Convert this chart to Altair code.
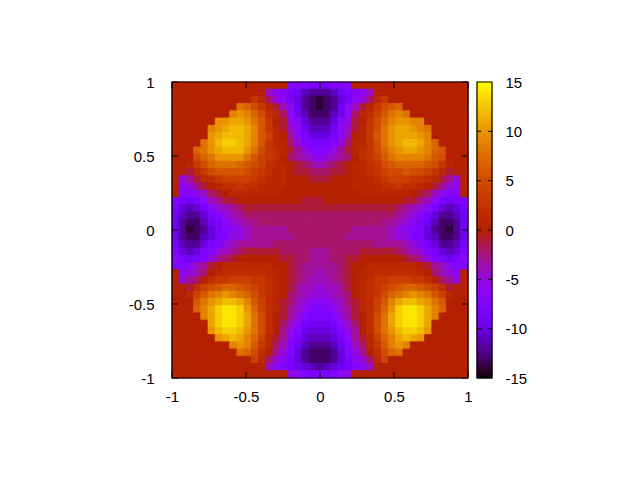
import math
import altair as alt
import pandas as pd

# Hand-read field values, top row first; each row lists only the cells inside the disk.
row_00 = [-6,-7,-7,-8,-8,-8,-7,-7,-6]
row_01 = [-4,-6,-7,-8,-9,-11,-12,-12,-12,-11,-9,-8,-7,-6,-4]
row_02 = [3,1,-2,-5,-6,-8,-10,-12,-13,-14,-13,-12,-10,-8,-6,-5,-2,1,3]
row_03 = [8,7,5,3,1,-1,-4,-6,-9,-12,-13,-14,-13,-12,-9,-6,-4,-1,1,3,5,6,7]
row_04 = [9,10,9,7,5,2,1,-2,-6,-9,-11,-13,-13,-13,-11,-9,-6,-2,1,2,4,6,8,9,8]
row_05 = [10,10,11,11,10,8,6,3,0,-1,-5,-7,-10,-12,-12,-12,-10,-7,-5,-1,0,3,5,7,9,10,10,9,9]
row_06 = [9,10,11,12,12,11,9,6,3,1,-1,-4,-6,-9,-11,-11,-11,-9,-6,-4,-1,1,3,5,8,10,11,11,10,9,8]
row_07 = [10,11,12,12,12,11,9,6,4,1,0,-3,-6,-8,-10,-10,-10,-8,-6,-3,0,1,3,6,8,10,11,11,11,10,9]
row_08 = [8,10,12,13,13,12,11,9,6,3,1,1,-2,-5,-7,-8,-8,-8,-7,-5,-2,1,1,3,5,8,10,11,12,12,11,9,7]
row_09 = [7,8,10,11,12,12,12,10,8,5,3,2,1,-1,-3,-5,-7,-7,-7,-5,-3,-1,1,2,3,5,7,9,10,11,11,10,9,7,6]
row_10 = [5,7,8,10,10,10,10,8,6,4,3,2,0,-2,-3,-4,-5,-6,-5,-4,-3,-2,0,2,3,4,6,8,9,9,9,9,8,6,5]
row_11 = [1,3,5,7,8,8,8,7,6,5,4,2,1,1,0,-1,-2,-3,-4,-3,-2,-1,0,1,1,2,3,5,6,7,7,7,7,6,5,3,1]
row_12 = [-1,1,3,5,6,6,6,6,5,4,3,2,1,1,0,-1,-1,-2,-2,-2,-1,-1,0,1,1,2,3,4,5,5,6,5,5,4,3,1,-1]
row_13 = [-5,-3,-1,1,2,3,4,4,4,4,3,2,1,1,1,0,0,0,-1,-1,-1,0,0,0,1,1,1,2,3,4,4,4,3,3,2,1,-1,-3,-5]
row_14 = [-6,-5,-3,-1,0,1,2,2,3,2,2,1,1,1,1,0,0,0,0,0,0,0,0,0,1,1,1,1,2,2,3,2,2,1,0,-1,-3,-5,-6]
row_15 = [-7,-7,-6,-4,-2,-1,0,1,1,1,1,1,1,1,0,0,0,0,0,0,0,0,0,0,0,1,1,1,1,1,1,1,0,-1,-2,-4,-6,-7,-7]
row_16 = [-7,-8,-9,-8,-6,-4,-3,-1,-1,0,0,0,0,0,0,0,0,0,-1,-1,-1,0,0,0,0,0,0,0,0,0,0,0,-1,-1,-3,-4,-6,-8,-9,-8,-7]
row_17 = [-8,-10,-11,-10,-8,-6,-5,-4,-3,-2,-1,-1,-1,-1,-1,-1,-1,-1,-1,-1,-1,-1,-1,-1,-1,-1,-1,-1,-1,-1,-1,-2,-3,-4,-5,-6,-8,-10,-11,-10,-8]
row_18 = [-9,-11,-12,-12,-10,-8,-7,-5,-4,-3,-2,-2,-2,-2,-2,-2,-2,-2,-2,-2,-2,-2,-2,-2,-2,-2,-2,-2,-2,-2,-2,-3,-4,-5,-7,-8,-10,-12,-12,-11,-9]
row_19 = [-9,-12,-13,-13,-11,-9,-8,-6,-5,-4,-3,-3,-2,-2,-2,-2,-2,-2,-2,-2,-2,-2,-2,-2,-2,-2,-2,-2,-2,-3,-3,-4,-5,-6,-8,-9,-11,-13,-13,-12,-9]
row_20 = [-9,-12,-14,-13,-12,-10,-8,-7,-6,-5,-4,-3,-3,-3,-3,-3,-2,-2,-2,-2,-2,-2,-2,-2,-2,-3,-3,-3,-3,-3,-4,-5,-6,-7,-8,-10,-12,-13,-14,-12,-9]
row_21 = [-9,-12,-13,-13,-11,-10,-8,-7,-5,-5,-4,-3,-3,-3,-3,-3,-3,-2,-2,-2,-2,-2,-2,-2,-3,-3,-3,-3,-3,-3,-4,-5,-5,-7,-8,-10,-11,-13,-13,-12,-9]
row_22 = [-8,-11,-12,-12,-10,-8,-7,-5,-4,-3,-3,-3,-3,-3,-2,-2,-2,-2,-2,-2,-2,-2,-2,-2,-2,-2,-2,-2,-3,-3,-3,-3,-4,-5,-7,-8,-10,-12,-12,-11,-8]
row_23 = [-7,-10,-11,-10,-8,-7,-5,-4,-3,-2,-1,-1,-1,-1,-1,-2,-2,-2,-2,-3,-3,-3,-2,-2,-2,-2,-1,-1,-1,-1,-1,-2,-3,-4,-5,-7,-8,-10,-11,-10,-7]
row_24 = [-6,-8,-9,-8,-7,-5,-3,-2,-1,0,0,0,0,0,0,-1,-1,-2,-2,-3,-3,-3,-2,-2,-1,-1,0,0,0,0,0,0,-1,-2,-3,-5,-7,-8,-9,-8,-6]
row_25 = [-7,-7,-6,-4,-3,-1,0,1,1,1,1,1,1,1,0,0,-1,-2,-3,-3,-3,-3,-3,-2,-1,0,0,1,1,1,1,1,1,1,0,-1,-3,-4,-6,-7,-7]
row_26 = [-6,-5,-4,-2,0,1,2,2,2,2,2,2,1,1,0,-1,-2,-3,-3,-4,-3,-3,-2,-1,0,1,1,2,2,2,2,2,2,1,0,-2,-4,-5,-6]
row_27 = [-5,-3,-2,0,2,3,3,4,4,4,3,3,2,1,0,-1,-2,-3,-4,-4,-4,-3,-2,-1,0,1,2,3,3,4,4,4,3,3,2,0,-2,-3,-5]
row_28 = [-1,2,4,5,6,7,7,6,5,4,3,2,1,0,-1,-3,-4,-4,-5,-4,-4,-3,-1,0,1,2,3,4,5,6,7,7,6,5,4,2,-1]
row_29 = [1,4,6,8,9,10,9,8,7,5,3,2,1,0,-2,-3,-4,-5,-5,-5,-4,-3,-2,0,1,2,3,5,7,8,9,10,9,8,6,4,1]
row_30 = [6,8,10,11,12,12,11,9,6,4,2,1,-1,-2,-4,-5,-6,-6,-6,-5,-4,-2,-1,1,2,4,6,9,11,12,12,11,10,8,6]
row_31 = [7,9,11,13,14,14,13,10,7,4,2,1,-1,-3,-4,-6,-7,-7,-7,-6,-4,-3,-1,1,2,4,7,10,13,14,14,13,11,9,7]
row_32 = [9,11,13,14,14,13,11,8,5,2,0,-1,-3,-5,-7,-8,-8,-8,-7,-5,-3,-1,0,2,5,8,11,13,14,14,13,11,9]
row_33 = [11,13,14,14,13,11,8,5,2,0,-2,-4,-6,-8,-9,-9,-9,-8,-6,-4,-2,0,2,5,8,11,13,14,14,13,11]
row_34 = [10,12,13,13,12,10,8,5,2,0,-3,-5,-7,-9,-10,-10,-10,-9,-7,-5,-3,0,2,5,8,10,12,13,13,12,10]
row_35 = [10,11,12,11,9,7,4,1,-1,-3,-6,-8,-10,-11,-11,-11,-10,-8,-6,-3,-1,1,4,7,9,11,12,11,10]
row_36 = [9,10,9,6,3,1,-2,-4,-7,-9,-11,-12,-12,-12,-11,-9,-7,-4,-2,1,3,6,9,10,9]
row_37 = [8,7,5,2,0,-3,-5,-7,-10,-12,-13,-13,-13,-12,-10,-7,-5,-3,0,2,5,7,8]
row_38 = [4,1,-2,-5,-6,-8,-10,-12,-13,-13,-13,-12,-10,-8,-6,-5,-2,1,4]
row_39 = [-4,-6,-7,-8,-9,-10,-11,-12,-11,-10,-9,-8,-7,-6,-4]
row_40 = [-5,-6,-7,-8,-8,-8,-7,-6,-5]

rows = [row_00,row_01,row_02,row_03,row_04,row_05,row_06,row_07,row_08,row_09,row_10,
        row_11,row_12,row_13,row_14,row_15,row_16,row_17,row_18,row_19,row_20,
        row_21,row_22,row_23,row_24,row_25,row_26,row_27,row_28,row_29,row_30,
        row_31,row_32,row_33,row_34,row_35,row_36,row_37,row_38,row_39,row_40]

axis_ticks = [-1, -0.5, 0, 0.5, 1]
bar_ticks = [-15, -10, -5, 0, 5, 10, 15]
bar_inner_ticks = [-10, -5, 0, 5, 10]

N = 41
cell = 2 / N
records = []
for j, row in enumerate(rows):
    pad = (N - len(row)) // 2
    full = [0] * pad + row + [0] * pad
    for i, v in enumerate(full):
        records.append({"x0": -1 + i * cell, "x1": -1 + (i + 1) * cell,
                        "y0": 1 - (j + 1) * cell, "y1": 1 - j * cell, "v": v})
cells = pd.DataFrame(records)

# gnuplot's default pm3d palette
stops = [-15 + 0.5 * k for k in range(61)]
def pal(v):
    t = (v + 15) / 30
    r = math.sqrt(t)
    g = t ** 3
    b = max(0.0, math.sin(2 * math.pi * t))
    return "#%02x%02x%02x" % (round(r * 255), round(g * 255), round(b * 255))
colors = [pal(v) for v in stops]
cscale = alt.Scale(domain=stops, range=colors, interpolate="rgb", clamp=True)

PW, PH = 296, 296
FONT = "Liberation Sans"
FS = 15
xs = alt.Scale(domain=[-1, 1], nice=False, zero=False)
ys = alt.Scale(domain=[-1, 1], nice=False, zero=False)

ax_x = alt.Axis(values=axis_ticks, title=None, ticks=False, domain=False, grid=False,
                labelFont=FONT, labelFontSize=FS, labelColor="black", labelPadding=11,
                labelExpr="'' + datum.value", labelFlush=False, labelOverlap=False,
                minExtent=30, maxExtent=30)
ax_y = alt.Axis(values=axis_ticks, title=None, ticks=False, domain=False, grid=False,
                labelFont=FONT, labelFontSize=FS, labelColor="black", labelPadding=18,
                labelExpr="'' + datum.value", labelFlush=False, labelOverlap=False,
                minExtent=50, maxExtent=50)

heat = alt.Chart(cells).mark_rect(strokeWidth=1, opacity=1, strokeOpacity=1, fillOpacity=1).encode(
    x=alt.X("x0:Q", scale=xs, axis=ax_x),
    x2="x1:Q",
    y=alt.Y("y0:Q", scale=ys, axis=ax_y),
    y2="y1:Q",
    color=alt.Color("v:Q", scale=cscale, legend=None),
    stroke=alt.Stroke("v:Q", scale=cscale, legend=None),
)

tick_df = pd.DataFrame({"t": axis_ticks})
tx = alt.X("t:Q", scale=xs, axis=ax_x)
ty = alt.Y("t:Q", scale=ys, axis=ax_y)
rule = alt.Chart(tick_df).mark_rule(color="black", strokeWidth=1)
ticks = [
    rule.encode(x=tx, y=alt.value(PH), y2=alt.value(PH - 6)),
    rule.encode(x=tx, y=alt.value(0), y2=alt.value(6)),
    rule.encode(y=ty, x=alt.value(0), x2=alt.value(6)),
    rule.encode(y=ty, x=alt.value(PW), x2=alt.value(PW - 6)),
]
frame = alt.Chart(pd.DataFrame({"a": [-1], "b": [1]})).mark_rect(
    filled=False, stroke="black", strokeWidth=1.2).encode(
    x=alt.X("a:Q", scale=xs, axis=ax_x), x2="b:Q",
    y=alt.Y("a:Q", scale=ys, axis=ax_y), y2="b:Q")
main = alt.layer(heat, *ticks, frame).properties(width=PW, height=PH)

bar_steps = [-15 + 0.25 * k for k in range(120)]
bar_df = pd.DataFrame({"y0": bar_steps, "y1": [s + 0.25 for s in bar_steps],
                       "v": [s + 0.125 for s in bar_steps]})
bs = alt.Scale(domain=[-15, 15], nice=False, zero=False)
ax_bar = alt.Axis(values=bar_ticks, orient="right", title=None, ticks=False, domain=False, grid=False,
                  labelFont=FONT, labelFontSize=FS, labelColor="black", labelPadding=13,
                  labelExpr="'' + datum.value", labelFlush=False, labelOverlap=False,
                  labelAlign="left")
BW = 15
bar = alt.Chart(bar_df).mark_rect(strokeWidth=1, opacity=1, strokeOpacity=1, fillOpacity=1).encode(
    y=alt.Y("y0:Q", scale=bs, axis=ax_bar),
    y2="y1:Q",
    x=alt.value(0), x2=alt.value(BW),
    color=alt.Color("v:Q", scale=cscale, legend=None),
    stroke=alt.Stroke("v:Q", scale=cscale, legend=None),
)
bt = alt.Chart(pd.DataFrame({"t": bar_inner_ticks})).mark_rule(color="black", strokeWidth=1)
bty = alt.Y("t:Q", scale=bs, axis=ax_bar)
bar_frame = alt.Chart(pd.DataFrame({"a": [-15], "b": [15]})).mark_rect(
    filled=False, stroke="black", strokeWidth=1.2).encode(
    x=alt.value(0), x2=alt.value(BW),
    y=alt.Y("a:Q", scale=bs, axis=ax_bar), y2="b:Q")
colorbar = alt.layer(
    bar,
    bt.encode(y=bty, x=alt.value(0), x2=alt.value(4)),
    bt.encode(y=bty, x=alt.value(BW), x2=alt.value(BW - 4)),
    bar_frame,
).properties(width=BW, height=PH)

chart = alt.hconcat(main, colorbar, spacing=3).properties(
    padding={"left": 114, "top": 67, "right": 0, "bottom": 0}
).configure_view(stroke=None)

chart.save("out.html", embed_options={"renderer": "svg", "actions": False})
